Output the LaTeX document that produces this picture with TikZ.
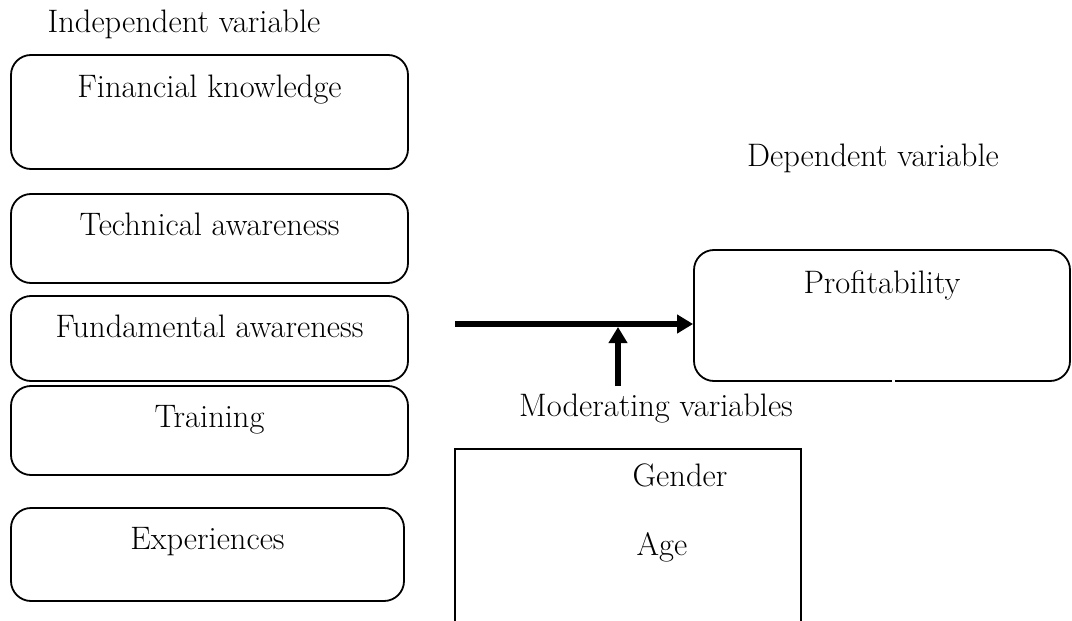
\documentclass[tikz,border=0pt]{standalone}
\usetikzlibrary{arrows.meta}
\begin{document}
\begin{tikzpicture}[x=1pt,y=-1pt,
  txt/.style={font=\fontsize{32.5}{38}\selectfont, inner sep=0pt, anchor=base},
  rbox/.style={draw, line width=1.8pt, rounded corners=20pt, inner sep=0pt, minimum width=397pt},
  bigarrow/.style={line width=5.5pt, -{Triangle[length=16pt,width=18pt]}}
]
\useasboundingbox (0,0) rectangle (1072,621);
% independent variables
\node[txt] (indep) at (184,32) {Independent variable};
\node[rbox, minimum height=114pt] (b1) at (209.5,112) {};
\node[txt] (t1) at (209.5,97) {Financial knowledge};
\node[rbox, minimum height=89pt] (b2) at (209.5,238.5) {};
\node[txt] (t2) at (209.5,235) {Technical awareness};
\node[rbox, minimum height=85pt] (b3) at (209.5,338.5) {};
\node[txt] (t3) at (209.5,337) {Fundamental awareness};
\node[rbox, minimum height=89pt] (b4) at (209.5,430.5) {};
\node[txt] (t4) at (209.5,427) {Training};
\node[rbox, minimum height=93pt, minimum width=393pt] (b5) at (207.5,554.5) {};
\node[txt] (t5) at (207.5,549) {Experiences};
% dependent
\node[txt] (dep) at (873,166) {Dependent variable};
\node[rbox, minimum height=131pt, minimum width=376pt] (prof) at (882,315.5) {};
\node[txt] (tprof) at (882,293) {Profitability};
\draw[white, line width=2.5pt] (892,381) -- (895,381);
% arrows
\coordinate (src) at (455,324);
\coordinate (mod) at (618,386);
\coordinate (join) at (618,327);
\draw[bigarrow] (src) -- (src -| prof.west);
\draw[bigarrow] (mod) -- (join);
% moderating
\node[txt] (modtxt) at (656,416) {Moderating variables};
\coordinate (g1) at (455,621);
\coordinate (g2) at (455,449);
\coordinate (g3) at (801,449);
\coordinate (g4) at (801,621);
\draw[line width=1.8pt] (g1) -- (g2) -- (g3) -- (g4);
\node[txt] (gender) at (680,486) {Gender};
\node[txt] (age) at (662,555) {Age};
\end{tikzpicture}
\end{document}
